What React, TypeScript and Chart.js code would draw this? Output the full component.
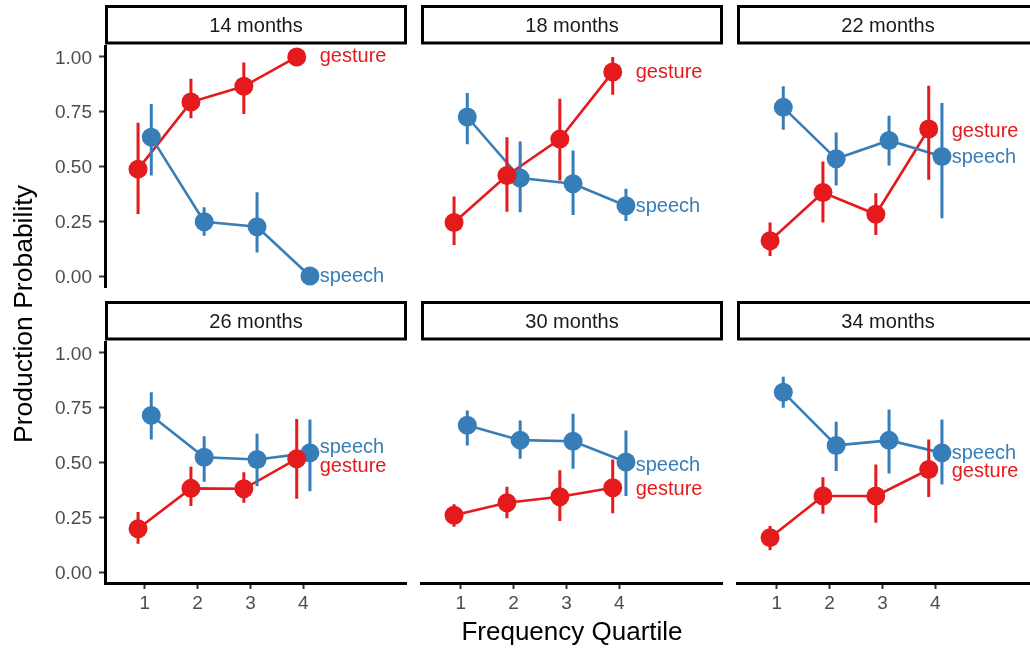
import React, { useEffect, useRef } from 'react';
import { Chart, registerables } from 'chart.js';

Chart.register(...registerables);

// ---------------- data ----------------
const ages = ['14 months', '18 months', '22 months', '26 months', '30 months', '34 months'];
const quartiles = [1, 2, 3, 4];
const yTickValues = [0, 0.25, 0.5, 0.75, 1];
const seriesNames = ['gesture', 'speech'];

const gestureMean = [
  [0.488, 0.794, 0.866, 1.0],
  [0.244, 0.459, 0.625, 0.931],
  [0.161, 0.381, 0.282, 0.671],
  [0.198, 0.382, 0.38, 0.517],
  [0.259, 0.316, 0.344, 0.385],
  [0.157, 0.347, 0.347, 0.468],
];
const gestureLow = [
  [0.283, 0.72, 0.74, 0.995],
  [0.142, 0.294, 0.436, 0.828],
  [0.091, 0.244, 0.187, 0.439],
  [0.129, 0.301, 0.316, 0.335],
  [0.207, 0.245, 0.233, 0.268],
  [0.1, 0.266, 0.225, 0.342],
];
const gestureHigh = [
  [0.7, 0.9, 0.975, 1.0],
  [0.363, 0.634, 0.809, 1.0],
  [0.244, 0.523, 0.378, 0.869],
  [0.274, 0.481, 0.456, 0.699],
  [0.309, 0.389, 0.465, 0.514],
  [0.21, 0.433, 0.491, 0.605],
];
const speechMean = [
  [0.634, 0.248, 0.225, 0.0],
  [0.726, 0.447, 0.421, 0.321],
  [0.77, 0.535, 0.619, 0.546],
  [0.715, 0.524, 0.514, 0.544],
  [0.67, 0.602, 0.597, 0.502],
  [0.821, 0.578, 0.601, 0.544],
];
const speechLow = [
  [0.459, 0.184, 0.108, 0.0],
  [0.602, 0.291, 0.279, 0.251],
  [0.668, 0.413, 0.504, 0.264],
  [0.605, 0.412, 0.392, 0.369],
  [0.578, 0.517, 0.471, 0.347],
  [0.75, 0.461, 0.45, 0.4],
];
const speechHigh = [
  [0.785, 0.314, 0.383, 0.005],
  [0.835, 0.614, 0.573, 0.398],
  [0.866, 0.655, 0.732, 0.79],
  [0.821, 0.62, 0.631, 0.696],
  [0.737, 0.692, 0.722, 0.646],
  [0.891, 0.686, 0.742, 0.696],
];
// y value at which each end label sits
const gestureLabelY = [1.0, 0.929, 0.66, 0.482, 0.379, 0.458];
const speechLabelY = [0.0, 0.317, 0.54, 0.568, 0.488, 0.543];

// ---------------- style / layout ----------------
const RED = '#E41A1C';
const BLUE = '#377EB8';
const FONT = "'Liberation Sans', Arial, Helvetica, sans-serif";
const DODGE = 0.125;
const LABEL_X = 4.31;
const X_MIN = 0.25;
const X_MAX = 5.96;

const COL_LEFT = [105, 421, 737];
const ROW_TOP = [46, 342];
const PANEL_W = 302;
const PANEL_H = 241;
const LEFT_SPACE = 70;
const TOP_SPACE = 44;
const BOTTOM_SPACE = 52;
const CANVAS_W = LEFT_SPACE + PANEL_W;
const CANVAS_H = TOP_SPACE + PANEL_H + BOTTOM_SPACE;

Chart.defaults.font.family = FONT;

function rangeData(xs: number[], lo: number[], hi: number[], shift: number) {
  const out: any[] = [];
  xs.forEach((x, i) => {
    out.push({ x: x + shift, y: lo[i] });
    out.push({ x: x + shift, y: hi[i] });
    out.push({ x: x + shift, y: null });
  });
  return out;
}

function pointData(xs: number[], ys: number[], shift: number) {
  return xs.map((x, i) => ({ x: x + shift, y: ys[i] }));
}

function makeConfig(p: number): any {
  const col = p % 3;
  const row = Math.floor(p / 3);
  const showY = col === 0;
  const showX = row === 1;

  const datasets: any[] = [
    {
      label: 'gesture points',
      data: pointData(quartiles, gestureMean[p], -DODGE),
      showLine: false,
      pointRadius: 9.5,
      pointBorderWidth: 0,
      pointBackgroundColor: RED,
      borderColor: RED,
      order: 0,
    },
    {
      label: 'speech points',
      data: pointData(quartiles, speechMean[p], DODGE),
      showLine: false,
      pointRadius: 9.5,
      pointBorderWidth: 0,
      pointBackgroundColor: BLUE,
      borderColor: BLUE,
      order: 1,
    },
    {
      label: 'speech ranges',
      data: rangeData(quartiles, speechLow[p], speechHigh[p], DODGE),
      borderColor: BLUE,
      borderWidth: 3,
      pointRadius: 0,
      spanGaps: false,
      borderCapStyle: 'butt',
      order: 2,
    },
    {
      label: 'gesture ranges',
      data: rangeData(quartiles, gestureLow[p], gestureHigh[p], -DODGE),
      borderColor: RED,
      borderWidth: 3,
      pointRadius: 0,
      spanGaps: false,
      borderCapStyle: 'butt',
      order: 3,
    },
    {
      label: 'speech line',
      data: pointData(quartiles, speechMean[p], DODGE),
      borderColor: BLUE,
      borderWidth: 2.6,
      pointRadius: 0,
      tension: 0,
      order: 4,
    },
    {
      label: 'gesture line',
      data: pointData(quartiles, gestureMean[p], -DODGE),
      borderColor: RED,
      borderWidth: 2.6,
      pointRadius: 0,
      tension: 0,
      order: 5,
    },
  ];

  const stripPlugin = {
    id: 'strip',
    afterDraw(chart: any) {
      const { ctx, chartArea } = chart;
      const top = chartArea.top - 41;
      const bottom = chartArea.top - 1.5;
      const left = chartArea.left;
      const right = chartArea.right;
      ctx.save();
      ctx.fillStyle = '#FFFFFF';
      ctx.fillRect(left, top, right - left, bottom - top);
      ctx.lineWidth = 3;
      ctx.strokeStyle = '#000000';
      ctx.strokeRect(left + 1.5, top + 1.5, right - left - 3, bottom - top - 3);
      ctx.fillStyle = '#1A1A1A';
      ctx.font = `20px ${FONT}`;
      ctx.textAlign = 'center';
      ctx.textBaseline = 'middle';
      ctx.fillText(ages[p], (left + right) / 2, (top + bottom) / 2 + 1.5);
      ctx.restore();
    },
  };

  const labelPlugin = {
    id: 'endLabels',
    afterDatasetsDraw(chart: any) {
      const { ctx, scales } = chart;
      const x = scales.x.getPixelForValue(LABEL_X);
      ctx.save();
      ctx.font = `20px ${FONT}`;
      ctx.textAlign = 'left';
      ctx.textBaseline = 'middle';
      ctx.fillStyle = RED;
      ctx.fillText(seriesNames[0], x, scales.y.getPixelForValue(gestureLabelY[p]));
      ctx.fillStyle = BLUE;
      ctx.fillText(seriesNames[1], x, scales.y.getPixelForValue(speechLabelY[p]));
      ctx.restore();
    },
  };

  return {
    type: 'line',
    data: { datasets },
    options: {
      animation: false,
      responsive: false,
      maintainAspectRatio: false,
      events: [],
      layout: { autoPadding: false, padding: { left: 0, top: TOP_SPACE, right: 0, bottom: 0 } },
      plugins: {
        legend: { display: false },
        tooltip: { enabled: false },
        title: { display: false },
      },
      scales: {
        x: {
          type: 'linear',
          min: X_MIN,
          max: X_MAX,
          offset: false,
          afterBuildTicks: (s: any) => {
            s.ticks = quartiles.map((v) => ({ value: v }));
          },
          afterFit: (s: any) => {
            s.height = BOTTOM_SPACE;
          },
          ticks: {
            display: showX,
            color: '#4D4D4D',
            font: { size: 19, family: FONT },
            padding: 3,
            maxRotation: 0,
            autoSkip: false,
            callback: (v: any) => String(v),
          },
          grid: {
            display: showX,
            drawOnChartArea: false,
            drawTicks: true,
            tickLength: 6,
            tickWidth: 2,
            tickColor: '#333333',
          },
          border: { display: showX, width: 3, color: '#000000' },
        },
        y: {
          type: 'linear',
          min: -0.05,
          max: 1.05,
          afterBuildTicks: (s: any) => {
            s.ticks = yTickValues.map((v) => ({ value: v }));
          },
          afterFit: (s: any) => {
            s.width = LEFT_SPACE;
          },
          ticks: {
            display: showY,
            color: '#4D4D4D',
            font: { size: 19, family: FONT },
            padding: 7,
            labelOffset: 1.5,
            autoSkip: false,
            callback: (v: any) => Number(v).toFixed(2),
          },
          grid: {
            display: showY,
            drawOnChartArea: false,
            drawTicks: true,
            tickLength: 6,
            tickWidth: 2,
            tickColor: '#333333',
          },
          border: { display: showY, width: 3, color: '#000000' },
        },
      },
    },
    plugins: [stripPlugin, labelPlugin],
  };
}

function Panel({ p }: { p: number }) {
  const ref = useRef<HTMLCanvasElement>(null);
  useEffect(() => {
    if (!ref.current) return;
    const chart = new Chart(ref.current, makeConfig(p));
    return () => chart.destroy();
  }, [p]);
  const col = p % 3;
  const row = Math.floor(p / 3);
  return (
    <canvas
      ref={ref}
      width={CANVAS_W}
      height={CANVAS_H}
      style={{
        position: 'absolute',
        left: COL_LEFT[col] - LEFT_SPACE,
        top: ROW_TOP[row] - TOP_SPACE,
        width: CANVAS_W + 'px',
        height: CANVAS_H + 'px',
      }}
    />
  );
}

export default function App() {
  return (
    <div
      style={{
        position: 'absolute',
        left: 0,
        top: 0,
        width: 1030,
        height: 648,
        overflow: 'hidden',
        background: '#FFFFFF',
        fontFamily: FONT,
      }}
    >
      {ages.map((_, p) => (
        <Panel key={p} p={p} />
      ))}
      <div
        style={{
          position: 'absolute',
          left: 0,
          top: 618,
          width: 1144,
          textAlign: 'center',
          fontSize: 26,
          lineHeight: '26px',
          color: '#000',
          whiteSpace: 'nowrap',
        }}
      >
        Frequency Quartile
      </div>
      <div
        style={{
          position: 'absolute',
          left: 23,
          top: 314,
          width: 400,
          height: 30,
          marginLeft: -200,
          marginTop: -15,
          transform: 'rotate(-90deg)',
          textAlign: 'center',
          fontSize: 26.5,
          lineHeight: '30px',
          color: '#000',
          whiteSpace: 'nowrap',
        }}
      >
        Production Probability
      </div>
    </div>
  );
}
